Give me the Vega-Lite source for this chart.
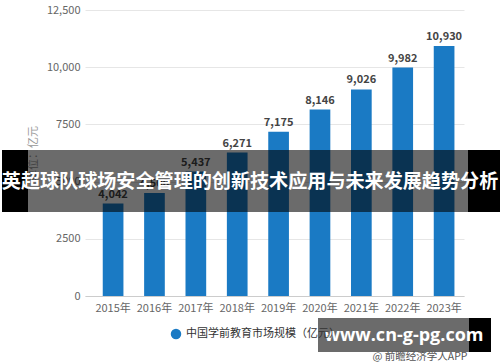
{
  "$schema": "https://vega.github.io/schema/vega-lite/v6.json",
  "width": 379,
  "height": 286,
  "autosize": {"type": "none"},
  "padding": {"left": 85, "top": 10, "right": 36, "bottom": 66},
  "background": "white",
  "config": {"font": "Noto Sans CJK SC", "view": {"stroke": null}},
  "datasets": {
    "main": [
      {"year": "2015年", "value": 4042, "series": "中国学前教育市场规模（亿元）"},
      {"year": "2016年", "value": 4500, "series": "中国学前教育市场规模（亿元）"},
      {"year": "2017年", "value": 5437, "series": "中国学前教育市场规模（亿元）"},
      {"year": "2018年", "value": 6271, "series": "中国学前教育市场规模（亿元）"},
      {"year": "2019年", "value": 7175, "series": "中国学前教育市场规模（亿元）"},
      {"year": "2020年", "value": 8146, "series": "中国学前教育市场规模（亿元）"},
      {"year": "2021年", "value": 9026, "series": "中国学前教育市场规模（亿元）"},
      {"year": "2022年", "value": 9982, "series": "中国学前教育市场规模（亿元）"},
      {"year": "2023年", "value": 10930, "series": "中国学前教育市场规模（亿元）"}
    ],
    "one": [{"k": 1}]
  },
  "layer": [
    {
      "data": {"name": "main"},
      "mark": {"type": "bar", "color": "#1a7ac4"},
      "encoding": {
        "x": {
          "field": "year", "type": "nominal", "sort": null,
          "scale": {"paddingInner": 0.5, "paddingOuter": 0.33, "align": 0.65},
          "axis": {"title": null, "labelAngle": 0, "labelColor": "#666", "labelFontSize": 11, "ticks": false, "domainColor": "#cccccc", "labelPadding": 6}
        },
        "y": {
          "field": "value", "type": "quantitative",
          "scale": {"domain": [0, 12500], "nice": false},
          "axis": {
            "title": "单位：亿元", "titleColor": "#999", "titleFontSize": 11, "titleFontWeight": "normal", "titlePadding": 8,
            "values": [0, 2500, 5000, 7500, 10000, 12500],
            "labelExpr": "datum.value >= 10000 ? format(datum.value, ',') : '' + datum.value",
            "labelColor": "#666", "labelFontSize": 11, "ticks": false, "domain": false, "gridColor": "#e6e6e6", "labelPadding": 5
          }
        },
        "color": {
          "field": "series", "type": "nominal",
          "scale": {"range": ["#1a7ac4"]},
          "legend": {"title": null, "orient": "none", "legendX": 85, "legendY": 318, "symbolType": "circle", "symbolSize": 110, "labelFontSize": 11, "labelColor": "#333"}
        }
      }
    },
    {
      "data": {"name": "main"},
      "mark": {"type": "text", "dy": -9, "fontSize": 11, "fontWeight": "bold", "color": "#444"},
      "encoding": {
        "x": {"field": "year", "type": "nominal", "sort": null},
        "y": {"field": "value", "type": "quantitative"},
        "text": {"field": "value", "type": "quantitative", "format": ","}
      }
    },
    {
      "data": {"name": "one"},
      "mark": {"type": "rect", "color": "#000000", "opacity": 0.58},
      "encoding": {"x": {"value": -57}, "x2": {"value": 383}, "y": {"datum": 6381}, "y2": {"datum": 3671}}
    },
    {
      "data": {"name": "one"},
      "mark": {"type": "rect", "color": "#000000"},
      "encoding": {"x": {"value": -83}, "x2": {"value": -57}, "y": {"datum": 6381}, "y2": {"datum": 3671}}
    },
    {
      "data": {"name": "one"},
      "mark": {"type": "rect", "color": "#000000"},
      "encoding": {"x": {"value": 383}, "x2": {"value": 415}, "y": {"datum": 6381}, "y2": {"datum": 3671}}
    },
    {
      "data": {"name": "one"},
      "mark": {"type": "text", "text": "英超球队球场安全管理的创新技术应用与未来发展趋势分析", "color": "white", "fontSize": 19.1, "fontWeight": "bold", "align": "center", "baseline": "middle"},
      "encoding": {"x": {"value": 165}, "y": {"datum": 4980}}
    },
    {
      "data": {"name": "one"},
      "mark": {"type": "rect", "color": "#000000", "opacity": 0.58},
      "encoding": {"x": {"value": 233}, "x2": {"value": 384}, "y": {"datum": -962}, "y2": {"datum": -2448}}
    },
    {
      "data": {"name": "one"},
      "mark": {"type": "rect", "color": "#000000"},
      "encoding": {"x": {"value": 384}, "x2": {"value": 406}, "y": {"datum": -962}, "y2": {"datum": -2448}}
    },
    {
      "data": {"name": "one"},
      "mark": {"type": "text", "text": "www.cn-g-pg.com", "color": "white", "fontSize": 18, "fontWeight": "bold", "font": "Open Sans", "align": "center", "baseline": "middle"},
      "encoding": {"x": {"value": 319}, "y": {"datum": -1748}}
    },
    {
      "data": {"name": "one"},
      "mark": {"type": "text", "text": "@ 前瞻经济学人APP", "color": "#555", "fontSize": 10.5, "align": "center", "baseline": "middle"},
      "encoding": {"x": {"value": 335}, "y": {"datum": -2680}}
    }
  ]
}
